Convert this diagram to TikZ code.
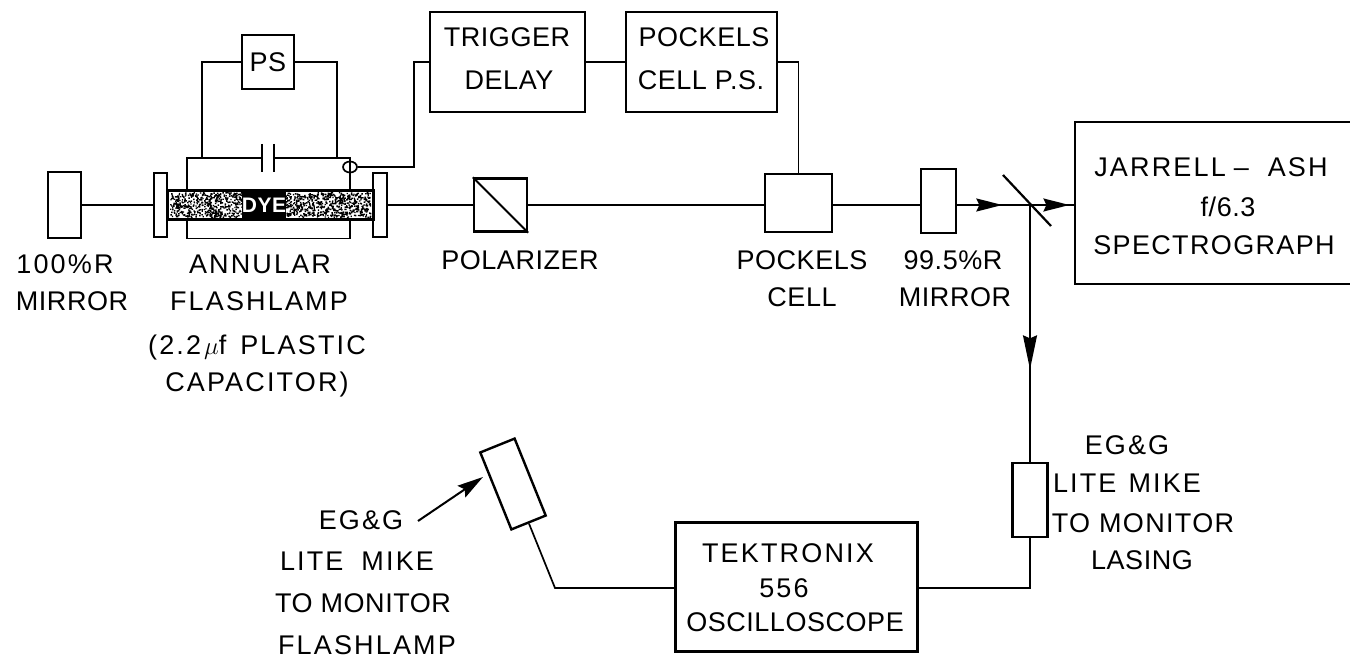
\documentclass[tikz,border=0pt]{standalone}
\usepackage{fontspec}
\setmainfont[LetterSpace=2]{Liberation Sans}
\usetikzlibrary{positioning,arrows.meta,decorations.markings,shapes.geometric}
\newcommand{\labfont}{\fontsize{27}{40}\selectfont}
\tikzset{
  wire/.style={line width=1.7pt},
  box/.style={draw,line width=2.4pt,inner sep=0pt},
  lab/.style={inner sep=0pt,align=center,font=\labfont},
  mid/.style={font=\labfont\addfontfeature{LetterSpace=5}},
  wide/.style={font=\labfont\addfontfeature{LetterSpace=8}},
  beam/.style={line width=1.7pt,postaction={decorate},decoration={markings,mark=at position #1 with {\arrow{Stealth[length=26pt,width=13pt,inset=3pt]}}}},
  bigbeam/.style={line width=1.7pt,postaction={decorate},decoration={markings,mark=at position #1 with {\arrow{Stealth[length=34pt,width=14pt,inset=3pt]}}}}
}

\begin{document}
\begin{tikzpicture}[x=1pt,y=-1pt]
  \useasboundingbox (0,0) rectangle (1350,658);
  % optical bench
  \node[box,minimum width=33pt,minimum height=66pt] (mirrorA) at (64.5,205) {};
  \node[box,minimum width=13pt,minimum height=64pt] (plateL) at (160.5,205) {};
  \node[box,minimum width=14pt,minimum height=64pt] (plateR) at (380,205) {};
  \node[box,minimum width=53pt,minimum height=53pt] (pol) at (500.5,205) {};
  \node[box,minimum width=67pt,minimum height=58pt] (pcell) at (798.5,203) {};
  \node[box,minimum width=35pt,minimum height=64pt] (mirrorB) at (938.5,201) {};
  \node[box,minimum width=281pt,minimum height=162pt] (spec) at (1215.5,203) {};
  \node[lab,wide] (jarrell) at (1211,167) {JARRELL\hspace{8pt}--\hspace{19pt}ASH};
  \node[lab] (fnum) at (1228,207) {f/6.3};
  \node[lab,mid] (sgraph) at (1214,245) {SPECTROGRAPH};
  \draw[line width=1.8pt] (pol.north west) -- (pol.south east);
  % dye tube
  \node[draw,line width=3pt,inner sep=0pt,minimum width=206pt,minimum height=28pt] (tube) at (270,205) {};
  \pgfmathsetseed{4217}
  \fill foreach \i in {1,...,1500} {
    ({170+200*rnd},{192+25*rnd}) rectangle ++(1.4,1.4)
  };
  \node[fill=black,text=white,inner sep=0pt,minimum width=38pt,minimum height=28pt,font=\fontsize{21}{21}\selectfont\bfseries] (dye) at (264,205) {DYE};
  % power supply and capacitor
  \node[box,minimum width=52pt,minimum height=54pt] (ps) at (268,62) {};
  \node[lab] (lps) at (268,62) {PS};
  \node[box,minimum width=155pt,minimum height=100pt] (trig) at (507.5,62) {};
  \node[lab] (ltrig) at (507,37) {TRIGGER};
  \node[lab] (ldelay) at (509,80) {DELAY};
  \node[box,minimum width=151pt,minimum height=100pt] (ppsu) at (701.5,62) {};
  \node[lab] (lpock) at (704,37) {POCKELS};
  \node[lab] (lcps) at (701,80) {CELL P.S.};
  \coordinate (fa) at (187,158);
  \coordinate (fb) at (350,158);
  \coordinate (wa) at (202,158);
  \coordinate (wb) at (337,158);
  \coordinate (capl) at (262,158);
  \coordinate (capr) at (274,158);
  \coordinate (ta) at (414,62);
  \node[draw,ellipse,wire,inner sep=0pt,minimum width=14pt,minimum height=11pt] (trans) at (350,167) {};
  \draw[wire] (ps.west) -| (wa);
  \draw[wire] (ps.east) -| (wb);
  \draw[wire] (tube.north -| fa) -- (fa) -- (capl);
  \draw[wire] (capr) -- (fb) -- (tube.north -| fb);
  \draw[wire] (capl) ++(0,-14) -- ++(0,28);
  \draw[wire] (capr) ++(0,-14) -- ++(0,28);
  \draw[wire] (tube.south -| fa) -- ++(0,18) -| (tube.south -| fb);
  \draw[wire] (trans.east) -| (ta) -- (trig.west);
  \draw[wire] (trig.east) -- (ppsu.west);
  \draw[wire] (ppsu.east) -| (pcell.north);
  % beam
  \draw[wire] (mirrorA.east) -- (plateL.west);
  \draw[wire] (plateR.east) -- (pol.west);
  \draw[wire] (pol.east) -- (pol.east -| pcell.west);
  \draw[wire] (pol.east -| pcell.east) -- (pol.east -| mirrorB.west);
  \coordinate (bsc) at (1030,205);
  \coordinate (bsa) at (1003,175);
  \coordinate (bsb) at (1051,226);
  \draw[line width=2.2pt] (bsa) -- (bsb);
  \draw[beam=0.62] (bsc -| mirrorB.east) -- (bsc);
  \draw[beam=0.9] (bsc) -- (bsc -| spec.west);
  \node[box,minimum width=35pt,minimum height=74pt] (liteA) at (1030,500) {};
  \draw[bigbeam=0.64] (bsc) -- (liteA.north);
  % scope
  \node[box,minimum width=242pt,minimum height=129pt] (tek) at (796.5,587) {};
  \node[lab,wide] (ltek) at (788,553) {TEKTRONIX};
  \node[lab,wide] (l556) at (784,588) {556};
  \node[lab] (losc) at (795,622) {OSCILLOSCOPE};
  \node[box,rotate=22,minimum width=37pt,minimum height=83pt] (liteB) at (513,484) {};
  \coordinate (wc) at (1030,588);
  \coordinate (wd) at (555,588);
  \draw[wire] (liteA.south) -- (wc) -- (wc -| tek.east);
  \draw[wire] (wd -| tek.west) -- (wd) -- (liteB.south);
  \coordinate (ptr) at (418,521);
  \coordinate (ptrtip) at (483,477);
  \draw[-{Stealth[length=26pt,width=14pt,inset=4pt]},line width=2pt] (ptr) -- (ptrtip);
  % labels
  \node[lab,wide] (l100) at (65,264) {100\%R};
  \node[lab] (lmirA) at (72,301) {MIRROR};
  \node[lab,wide] (lann) at (260,264) {ANNULAR};
  \node[lab,wide] (lflash) at (259,301) {FLASHLAMP};
  \node[lab,wide] (lplast) at (257,348) {(2.2\hspace{3pt}$\mu$f\hspace{14pt}PLASTIC};
  \node[lab,wide] (lcap) at (257,385) {CAPACITOR)};
  \node[lab] (lpol) at (520,260) {POLARIZER};
  \node[lab] (lpc) at (802,260) {POCKELS};
  \node[lab] (lcell) at (802,297) {CELL};
  \node[lab] (l995) at (953,260) {99.5\%R};
  \node[lab] (lmirB) at (955,297) {MIRROR};
  \node[lab,wide] (legA) at (1127,445) {EG\&G};
  \node[lab,wide] (lliteA) at (1127,483) {LITE\hspace{12pt}MIKE};
  \node[lab,mid] (ltoA) at (1143,523) {TO MONITOR};
  \node[lab] (lasing) at (1142,560) {LASING};
  \node[lab,wide] (legB) at (361,520) {EG\&G};
  \node[lab,wide] (lliteB) at (357,561) {LITE\hspace{18pt}MIKE};
  \node[lab] (ltoB) at (363,603) {TO MONITOR};
  \node[lab,wide] (lflB) at (367,645) {FLASHLAMP};
\end{tikzpicture}
\end{document}
